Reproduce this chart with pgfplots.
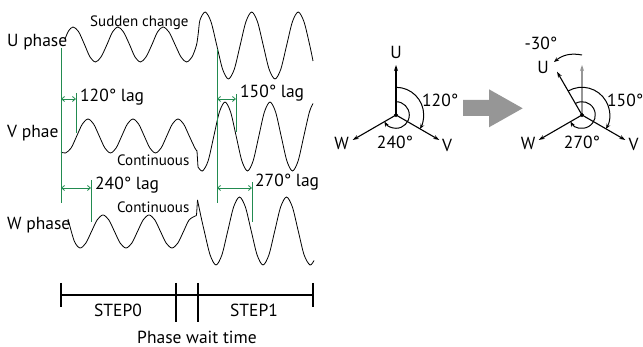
\documentclass[border=0pt]{standalone}
\usepackage{fontspec}
\setmainfont{PT Sans}
\usepackage{pgfplots}
\pgfplotsset{compat=1.18}
\usetikzlibrary{arrows.meta}
\definecolor{lagg}{RGB}{34,139,80}
\definecolor{bigar}{RGB}{150,150,150}
\newcommand\fa{\fontsize{17.5}{20}\selectfont}
\newcommand\fb{\fontsize{15}{18}\selectfont}
\begin{document}
\begin{tikzpicture}
\begin{axis}[
  scale only axis, width=643pt, height=347pt,
  xmin=0, xmax=643, ymin=0, ymax=347, y dir=reverse,
  hide axis, clip=false, enlargelimits=false,
]
% U phase
\addplot[black, line width=0.8pt, smooth, tension=0.5] coordinates {
(65,39) (68.5,31) (73,27) (78.5,31.5) (84.5,44.5) (90,57) (95.5,62) (101,57) (107,44.5) (112.5,32) (118,27) (123.5,32) (129.5,44.5) (135,57) (140.5,62) (146,57) (152,44.5) (157.5,32) (163,27) (169,32) (175,44.5) (181,57) (186.5,62) (192,57) (196.5,45) (198.3,33) (200,20) (205.2,12) (211,21.8) (216.8,45.5) (222.6,69.2) (228.4,79) (234.3,69.2) (240.1,45.5) (245.9,21.8) (251.7,12) (257.5,21.8) (263.3,45.5) (269.1,69.2) (275,79) (280.8,69.2) (286.6,45.5) (292.4,21.8) (298.2,12) (304,21.8) (309.8,45.5) (313,61)
};
% V phase small
\addplot[black, line width=0.8pt, smooth, tension=0.5] coordinates {
(61,152) (65.5,153) (71.125,148) (76.75,136) (82.375,124) (88,119) (93.625,124) (99.25,136) (104.875,148) (110.5,153) (116.125,148) (121.75,136) (127.375,124) (133,119) (138.625,124) (144.25,136) (149.875,148) (155.5,153) (161.125,148) (166.75,136) (172.375,124) (178,119) (183.625,124) (189.25,136) (194.875,148) (197,151)
};
\addplot[black, line width=0.8pt] coordinates {(197,151) (198,167)};
% V phase big
\addplot[black, line width=0.8pt, smooth, tension=0.5] coordinates {
(198,167) (202.5,171) (208.125,160.9) (213.75,136.5) (219.375,112.1) (225,102) (230.625,112.1) (236.25,136.5) (241.875,160.9) (247.5,171) (253.125,160.9) (258.75,136.5) (264.375,112.1) (270,102) (275.625,112.1) (281.25,136.5) (286.875,160.9) (292.5,171) (298.125,160.9) (303.75,136.5) (309.375,112.1) (313,103.5)
};
% W phase small
\addplot[black, line width=0.8pt, smooth, tension=0.5] coordinates {
(68,219) (74.25,241) (80,248) (85.75,243.2) (91.5,231.5) (97.25,219.8) (103,215) (108.75,219.8) (114.5,231.5) (120.25,243.2) (126,248) (131.75,243.2) (137.5,231.5) (143.25,219.8) (149,215) (154.75,219.8) (160.5,231.5) (166.25,243.2) (172,248) (177.75,243.2) (183.5,231.5) (189.25,219.8) (196.5,215.5)
};
\addplot[black, line width=0.8pt] coordinates {(196.5,215.5) (197.5,200)};
% W phase big
\addplot[black, line width=0.8pt, smooth, tension=0.5] coordinates {
(197.5,200) (201,216.7) (204.25,231) (210.125,255) (216,265) (221.875,255) (227.75,231) (233.625,207) (239.5,197) (245.375,207) (251.25,231) (257.125,255) (263,265) (268.875,255) (274.75,231) (280.625,207) (286.5,197) (292.375,207) (298.25,231) (304.125,255) (310,265) (314,260.5)
};
% green lag markers
\addplot[lagg, line width=0.8pt] coordinates {(61,48) (61,203)};
\addplot[lagg, line width=0.8pt] coordinates {(217,49) (217,203)};
\addplot[lagg, line width=0.8pt] coordinates {(76,93) (76,133)};
\addplot[lagg, line width=0.8pt] coordinates {(236,94) (236,132)};
\addplot[lagg, line width=0.8pt] coordinates {(91,180) (91,222)};
\addplot[lagg, line width=0.8pt] coordinates {(252,182) (252,222)};
\addplot[lagg, line width=0.8pt, {Straight Barb[length=3pt,width=5pt]}-{Straight Barb[length=3pt,width=5pt]}] coordinates {(61,99) (76,99)};
\addplot[lagg, line width=0.8pt, {Straight Barb[length=3pt,width=5pt]}-{Straight Barb[length=3pt,width=5pt]}] coordinates {(217,99) (236,99)};
\addplot[lagg, line width=0.8pt, {Straight Barb[length=3pt,width=5pt]}-{Straight Barb[length=3pt,width=5pt]}] coordinates {(61,188) (91,188)};
\addplot[lagg, line width=0.8pt, {Straight Barb[length=3pt,width=5pt]}-{Straight Barb[length=3pt,width=5pt]}] coordinates {(217,188) (252,188)};
% timeline
\addplot[black, line width=1.2pt] coordinates {(61,295) (313,295)};
\addplot[black, line width=1.2pt] coordinates {(61,283) (61,307)};
\addplot[black, line width=1.2pt] coordinates {(313,283) (313,307)};
\addplot[black, line width=1.2pt] coordinates {(176,283) (176,322)};
\addplot[black, line width=1.2pt] coordinates {(198,283) (198,322)};
% texts
\node[anchor=west, inner sep=0, font=\fa] at (axis cs:7,42) {U phase};
\node[anchor=west, inner sep=0, font=\fa] at (axis cs:7,133) {V phae};
\node[anchor=west, inner sep=0, font=\fa] at (axis cs:7,225) {W phase};
\node[anchor=west, inner sep=0, font=\fb] at (axis cs:90,23) {Sudden change};
\node[anchor=west, inner sep=0, font=\fb] at (axis cs:117,160) {Continuous};
\node[anchor=west, inner sep=0, font=\fb] at (axis cs:117,207) {Continuous};
\node[anchor=west, inner sep=0, font=\fa] at (axis cs:80,97) {120° lag};
\node[anchor=west, inner sep=0, font=\fa] at (axis cs:240,93) {150° lag};
\node[anchor=west, inner sep=0, font=\fa] at (axis cs:95,185) {240° lag};
\node[anchor=west, inner sep=0, font=\fa] at (axis cs:255,182) {270° lag};
\node[inner sep=0, font=\fa] at (axis cs:118,310) {STEP0};
\node[inner sep=0, font=\fa] at (axis cs:254,310) {STEP1};
\node[inner sep=0, font=\fa] at (axis cs:197,337) {Phase wait time};
% big arrow
\addplot[fill=bigar, draw=none] coordinates {(463,100) (489,100) (489,89.3) (522.7,108.3) (489,127.3) (489,116) (463,116)} -- cycle;
% left phasor
\addplot[black, line width=1.1pt, -{Stealth[length=6pt,width=4pt]}] coordinates {(396,115) (396,65)};
\addplot[black, line width=1.1pt, -{Stealth[length=6pt,width=4pt]}] coordinates {(396,115) (439.3,140)};
\addplot[black, line width=1.1pt, -{Stealth[length=6pt,width=4pt]}] coordinates {(396,115) (352.7,140)};
\addplot[black, only marks, mark=*, mark size=1.8pt] coordinates {(396,115)};
\draw[black, line width=1pt, -{Stealth[length=5pt,width=4pt]}] (axis cs:396,87.3) arc[start angle=90, end angle=-30, radius=27.7pt];
\draw[black, line width=1pt, -{Stealth[length=5pt,width=4pt]}] (axis cs:396,101.7) arc[start angle=90, end angle=-150, radius=13.3pt];
\node[font=\fa, inner sep=0] at (axis cs:396,52) {U};
\node[font=\fa, inner sep=0] at (axis cs:447,145) {V};
\node[font=\fa, inner sep=0] at (axis cs:341.5,143) {W};
\node[anchor=west, font=\fa, inner sep=0] at (axis cs:422,100) {120°};
\node[font=\fa, inner sep=0] at (axis cs:395,142) {240°};
% right phasor
\addplot[bigar, line width=1.1pt, -{Stealth[length=6pt,width=4pt]}] coordinates {(582,115) (582,65)};
\addplot[black, line width=1.1pt, -{Stealth[length=6pt,width=4pt]}] coordinates {(582,115) (557,71.7)};
\addplot[black, line width=1.1pt, -{Stealth[length=6pt,width=4pt]}] coordinates {(582,115) (625.3,140)};
\addplot[black, line width=1.1pt, -{Stealth[length=6pt,width=4pt]}] coordinates {(582,115) (538.7,140)};
\addplot[black, only marks, mark=*, mark size=1.8pt] coordinates {(582,115)};
\draw[black, line width=1pt, -{Stealth[length=5pt,width=4pt]}] (axis cs:568.15,91) arc[start angle=120, end angle=-30, radius=27.7pt];
\draw[black, line width=1pt, -{Stealth[length=5pt,width=4pt]}] (axis cs:575.35,103.48) arc[start angle=120, end angle=-150, radius=13.3pt];
\draw[black, line width=1pt, -{Stealth[length=5pt,width=4pt]}] (axis cs:582,55) to[bend right=25] (axis cs:554,62);
\node[font=\fa, inner sep=0] at (axis cs:543,67) {U};
\node[font=\fa, inner sep=0] at (axis cs:541,43) {-30°};
\node[font=\fa, inner sep=0] at (axis cs:633.5,144) {V};
\node[font=\fa, inner sep=0] at (axis cs:528,143) {W};
\node[anchor=west, font=\fa, inner sep=0] at (axis cs:607,100) {150°};
\node[font=\fa, inner sep=0] at (axis cs:582,142) {270°};
\end{axis}
\pgfresetboundingbox
\path (0,0) rectangle (643pt,347pt);
\end{tikzpicture}
\end{document}
